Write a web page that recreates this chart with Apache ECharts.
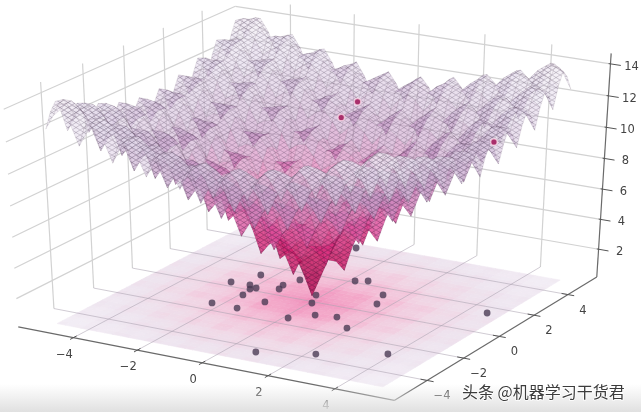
<!DOCTYPE html>
<html><head><meta charset="utf-8">
<style>html,body{margin:0;padding:0;background:#fff}#main{width:641px;height:412px;filter:blur(0.45px)}</style>
<script src="https://cdn.jsdelivr.net/npm/echarts@6/dist/echarts.min.js"></script>
</head><body><div id="main"></div>
<script>
// Heights for x,y = 0, 0.25, ... 5 (the surface is visibly mirror-symmetric about both axes)
const surfaceQuarter = [
[0.5,1.8,3.1,3.1,2.6,4.3,5.5,5.5,4.9,6.5,7.7,7.5,6.9,8.4,9.5,9.3,8.6,10.1,11.1,10.9,10.1],
[1.8,2.7,3.6,3.8,3.8,5.0,6.0,6.2,6.0,7.2,8.1,8.2,8.0,9.1,9.9,10.0,9.7,10.8,11.5,11.5,11.2],
[3.1,3.6,4.3,4.5,4.7,5.6,6.4,6.7,6.8,7.7,8.4,8.6,8.7,9.6,10.2,10.4,10.4,11.2,11.8,11.9,11.9],
[3.1,3.8,4.5,4.5,4.3,5.4,6.3,6.4,6.3,7.4,8.3,8.4,8.2,9.2,10.1,10.1,9.8,10.9,11.6,11.6,11.3],
[2.6,3.8,4.7,4.3,3.6,5.1,6.2,6.0,5.4,7.0,8.1,7.9,7.2,8.7,9.8,9.5,8.8,10.3,11.3,11.0,10.3],
[4.3,5.0,5.6,5.4,5.1,6.2,6.9,7.0,6.7,7.8,8.6,8.7,8.4,9.5,10.3,10.3,10.0,11.0,11.8,11.7,11.4],
[5.5,6.0,6.4,6.3,6.2,6.9,7.5,7.7,7.7,8.5,9.1,9.3,9.3,10.1,10.7,10.8,10.8,11.5,12.1,12.2,12.2],
[5.5,6.2,6.7,6.4,6.0,7.0,7.7,7.6,7.3,8.4,9.1,9.1,8.8,9.9,10.6,10.6,10.3,11.3,12.0,12.0,11.6],
[4.9,6.0,6.8,6.3,5.4,6.7,7.7,7.3,6.6,8.0,9.0,8.7,8.0,9.4,10.4,10.1,9.4,10.8,11.8,11.4,10.7],
[6.5,7.2,7.7,7.4,7.0,7.8,8.5,8.4,8.0,9.0,9.7,9.6,9.3,10.3,11.0,10.9,10.6,11.6,12.3,12.2,11.9],
[7.7,8.1,8.4,8.3,8.1,8.6,9.1,9.1,9.0,9.7,10.2,10.3,10.2,10.9,11.5,11.5,11.5,12.2,12.7,12.8,12.7],
[7.5,8.2,8.6,8.4,7.9,8.7,9.3,9.1,8.7,9.6,10.3,10.2,9.8,10.8,11.5,11.4,11.0,12.0,12.6,12.5,12.2],
[6.9,8.0,8.7,8.2,7.2,8.4,9.3,8.8,8.0,9.3,10.2,9.8,9.0,10.4,11.3,10.9,10.1,11.5,12.4,12.0,11.2],
[8.4,9.1,9.6,9.2,8.7,9.5,10.1,9.9,9.4,10.3,10.9,10.8,10.4,11.3,11.9,11.8,11.4,12.3,13.0,12.9,12.5],
[9.5,9.9,10.2,10.1,9.8,10.3,10.7,10.6,10.4,11.0,11.5,11.5,11.3,11.9,12.4,12.4,12.3,12.9,13.4,13.4,13.3],
[9.3,10.0,10.4,10.1,9.5,10.3,10.8,10.6,10.1,10.9,11.5,11.4,10.9,11.8,12.4,12.3,11.9,12.7,13.4,13.2,12.8],
[8.6,9.7,10.4,9.8,8.8,10.0,10.8,10.3,9.4,10.6,11.5,11.0,10.1,11.4,12.3,11.9,11.0,12.3,13.2,12.8,11.9],
[10.1,10.8,11.2,10.9,10.3,11.0,11.5,11.3,10.8,11.6,12.2,12.0,11.5,12.3,12.9,12.7,12.3,13.2,13.8,13.6,13.2],
[11.1,11.5,11.8,11.6,11.3,11.8,12.1,12.0,11.8,12.3,12.7,12.6,12.4,13.0,13.4,13.4,13.2,13.8,14.2,14.2,14.0],
[10.9,11.5,11.9,11.6,11.0,11.7,12.2,12.0,11.4,12.2,12.8,12.5,12.0,12.9,13.4,13.2,12.8,13.6,14.2,14.0,13.5],
[10.1,11.2,11.9,11.3,10.3,11.4,12.2,11.6,10.7,11.9,12.7,12.2,11.2,12.5,13.3,12.8,11.9,13.2,14.0,13.5,12.6]
];
const gridStep = 0.25;
const xTicks = [-4,-2,0,2,4];
const yTicks = [-4,-2,0,2,4];
const zTicks = [2,4,6,8,10,12,14];
const floorPointX = [-2.76,-2.36,-2.18,-2.0,-1.9,-1.31,-1.39,-1.91,-2.29,-1.48,-1.09,-1.21,-0.18,0.06,0.13,0.64,0.78,2.23,-1.26,0.15,0.46,1.40,1.63,1.23,1.91,3.87,4.57];
const floorPointY = [0.33,1.26,0.37,0.07,0.23,0.47,0.82,-0.46,-1.46,-1.49,-0.67,1.43,0.53,-0.11,-1.51,-0.94,-4.31,-3.66,4.66,2.11,2.29,1.45,0.70,-0.79,-1.44,-2.71,1.53];
const topPointX = [-1.26,-0.11,4.57];
const topPointY = [4.66,1.74,1.53];
const topPointZ = [9.9,11.0,11.2];
const surfaceRamp = ['#a00c4c','#b80f56','#d01c66','#e03a8c','#dc70b2','#c898c6','#d2bad8','#e2d8ea','#efe9f2'];
const floorRamp = ['#ee86b4','#f196bf','#f3aaca','#f3c4da','#f0d8e6','#eee4ef','#f2edf5'];

const XR = 5.75, ZLO = 0.12, ZHI = 14.65;
const map = echarts.number.linearMap;
function project(x, y, z) {
  const dx = map(x, [-XR, XR], [-.5, .5]), dy = map(y, [-XR, XR], [-.5, .5]), dz = map(z, [ZLO, ZHI], [-.5, .5]);
  const n = .433 * dx - .75 * dy + .5 * dz, w = 10 - n;
  const u = .866 * dx + .5 * dy, v = -.25 * dx + .433 * dy + .866 * dz;
  return { px: 312 + 434 * (10 * u / w), py: 191.4 - 260.7 * (10 * v / w), depth: n };
}
const N = surfaceQuarter.length - 1;
function zAt(i, j) { return surfaceQuarter[Math.abs(j)][Math.abs(i)]; }
const quads = [];
for (let j = -N; j < N; j++) for (let i = -N; i < N; i++) {
  const c = [[i, j], [i + 1, j], [i + 1, j + 1], [i, j + 1]].map(p => [p[0] * gridStep, p[1] * gridStep, zAt(p[0], p[1])]);
  const m = c.reduce((a, p) => a + p[2], 0) / 4;
  const cx = (i + .5) * gridStep, cy = (j + .5) * gridStep;
  quads.push({ c, m, depth: project(cx, cy, m).depth });
}
const surfaceCells = quads.slice().sort((a, b) => a.depth - b.depth);

// Screen-space lattice: the fine wire hatch that covers the surface in the reference
const tile = document.createElement('canvas');
tile.width = 8; tile.height = 5;
const tc = tile.getContext('2d');
tc.strokeStyle = 'rgba(45,30,60,.26)'; tc.lineWidth = .8;
tc.beginPath(); tc.moveTo(0, 0); tc.lineTo(8, 5); tc.moveTo(8, 0); tc.lineTo(0, 5); tc.stroke();
const hatch = { image: tile, repeat: 'repeat' };

const segs = [];
xTicks.forEach(t => { segs.push([t, XR, ZLO, t, XR, ZHI, 0]); });
yTicks.forEach(t => { segs.push([-XR, t, ZLO, -XR, t, ZHI, 0]); });
zTicks.forEach(t => { segs.push([-XR, -XR, t, -XR, XR, t, 0]); segs.push([-XR, XR, t, XR, XR, t, 0]); });
const floorSegs = [];
xTicks.forEach(t => floorSegs.push([t, -XR, ZLO, t, XR, ZLO]));
yTicks.forEach(t => floorSegs.push([-XR, t, ZLO, XR, t, ZLO]));
const axisSegs = [[-XR, -XR, ZLO, XR, -XR, ZLO], [XR, -XR, ZLO, XR, XR, ZLO], [XR, XR, ZLO, XR, XR, ZHI]];
const T = 0.028 * 2 * XR, TZ = 0.024 * 2 * XR;
const tickSegs = [];
xTicks.forEach(t => tickSegs.push([t, -XR - T * .5, ZLO, t, -XR + T * .5, ZLO]));
yTicks.forEach(t => tickSegs.push([XR - T * .6, t, ZLO, XR + T * .6, t, ZLO]));
zTicks.forEach(t => tickSegs.push([XR - TZ * .2, XR, t, XR + TZ * 1.1, XR, t]));
const fmt = v => String(v).replace('-', '\u2212');
const labels = [];
xTicks.forEach(t => { const p = project(t, -XR, ZLO); labels.push([p.px - 9, p.py + 17, fmt(t)]); });
yTicks.forEach(t => { const p = project(XR, t, ZLO); labels.push([p.px + 15, p.py + 16, fmt(t)]); });
zTicks.forEach(t => { const p = project(XR, XR, t); labels.push([p.px + 21, p.py + 3, fmt(t)]); });

function lineItem(s, stroke, width) {
  const a = project(s[0], s[1], s[2]), b = project(s[3], s[4], s[5]);
  return { type: 'line', shape: { x1: a.px, y1: a.py, x2: b.px, y2: b.py }, style: { stroke, lineWidth: width } };
}
function layer(data, renderItem) {
  return { type: 'custom', coordinateSystem: 'none', data, renderItem, silent: true, animation: false, progressive: 0, clip: false };
}
const poly = cell => cell.c.map(p => { const q = project(p[0], p[1], p[2]); return [q.px, q.py]; });
const floorPoly = cell => cell.c.map(p => { const q = project(p[0], p[1], ZLO); return [q.px, q.py]; });
const idx = a => a.map((_, i) => [i]);

const chart = echarts.init(document.getElementById('main'), null, { renderer: 'canvas' });
chart.setOption({
  animation: false,
  backgroundColor: '#fff',
  series: [
    layer(idx(segs), (p, api) => lineItem(segs[api.value(0)], '#d2d2d2', 1.2)),
    layer(idx(quads), (p, api) => {
      const q = quads[api.value(0)], col = echarts.color.lerp(Math.min(1, q.m / 14), floorRamp);
      return { type: 'polygon', shape: { points: floorPoly(q) }, style: { fill: col, stroke: col, lineWidth: .6 } };
    }),
    layer(idx(floorSegs), (p, api) => lineItem(floorSegs[api.value(0)], 'rgba(170,160,175,.55)', 1)),
    layer(floorPointX.map((x, i) => [x, floorPointY[i]]), (p, api) => {
      const q = project(api.value(0), api.value(1), ZLO);
      return { type: 'circle', shape: { cx: q.px, cy: q.py, r: 3.4 }, style: { fill: 'rgba(72,56,82,.78)' } };
    }),
    layer(idx(surfaceCells), (p, api) => {
      const q = surfaceCells[api.value(0)], col = echarts.color.lerp(Math.min(1, q.m / 14.2), surfaceRamp), pts = poly(q);
      return { type: 'group', children: [
        { type: 'polygon', shape: { points: pts }, style: { fill: echarts.color.modifyAlpha(col, .58), stroke: 'rgba(50,30,55,.16)', lineWidth: .5 } },
        { type: 'polygon', shape: { points: pts }, style: { fill: hatch } }
      ] };
    }),
    layer(topPointX.map((x, i) => [x, topPointY[i], topPointZ[i]]), (p, api) => {
      const q = project(api.value(0), api.value(1), api.value(2));
      return { type: 'circle', shape: { cx: q.px, cy: q.py, r: 3.3 }, style: { fill: '#a92f6b', stroke: 'rgba(255,225,238,.7)', lineWidth: 1.5 } };
    }),
    layer(idx(axisSegs), (p, api) => lineItem(axisSegs[api.value(0)], '#6a6a6a', 1.2)),
    layer(idx(tickSegs), (p, api) => lineItem(tickSegs[api.value(0)], '#555', 1)),
    layer(labels.map(l => [l[0], l[1], l[2]]), (p, api) => {
      const l = labels[p.dataIndex];
      return { type: 'text', x: l[0], y: l[1], style: { text: l[2], fill: '#444', font: '11.5px "DejaVu Sans"', align: 'center', verticalAlign: 'middle' } };
    })
  ],
  graphic: [
    { type: 'rect', z: 100, shape: { x: 0, y: 384, width: 641, height: 28 },
      style: { fill: new echarts.graphic.LinearGradient(0, 0, 0, 1, [{ offset: 0, color: 'rgba(226,226,226,0)' }, { offset: 1, color: 'rgba(224,224,224,1)' }]) } },
    { type: 'text', z: 101, x: 462, y: 392, style: { text: '头条 @机器学习干货君', fill: '#3c3c3c', stroke: '#fff', lineWidth: 1.5, font: '16px "Noto Sans CJK SC"', verticalAlign: 'middle', align: 'left' } }
  ]
});
</script></body></html>
